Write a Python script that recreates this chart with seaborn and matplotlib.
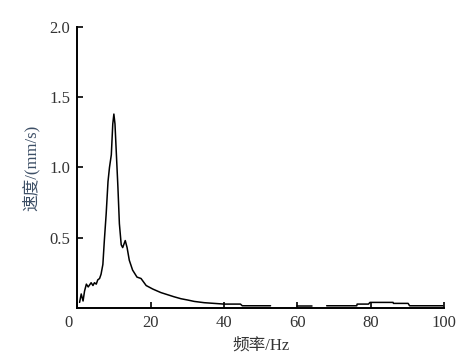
import numpy as np
import pandas as pd
import matplotlib
matplotlib.use("Agg")
import matplotlib.pyplot as plt
import matplotlib.transforms as mtransforms
import seaborn as sns

# spectrum (Hz, mm/s); separate segments where the trace has gaps
freq = [0.65, 1.1, 1.6, 2.0, 2.5, 3.0, 3.8, 4.3, 4.7, 5.2, 5.6, 6.1, 6.5, 7.0, 7.4, 7.9, 8.4, 8.8,
        9.3, 9.7, 10.0, 10.3, 10.6, 11.1, 11.5, 12.0, 12.4, 13.1, 13.6, 14.2, 15.1,
        16.3, 17.4, 18.8, 20.6, 22.8, 26.4, 28.3, 30.1, 31.9, 34.6, 37.3, 40.0, 44.5,
        45.0, 52.7,
        59.9, 64.0,
        68.0, 76.2, 76.3, 79.4, 79.8, 86.1, 86.2, 90.2, 90.6, 99.7]
speed = [0.04, 0.10, 0.05, 0.12, 0.17, 0.15, 0.18, 0.16, 0.18, 0.17, 0.20, 0.21, 0.24, 0.31, 0.48, 0.67, 0.90, 1.00,
         1.09, 1.31, 1.38, 1.31, 1.14, 0.86, 0.60, 0.45, 0.43, 0.48, 0.43, 0.34, 0.27,
         0.22, 0.21, 0.16, 0.135, 0.11, 0.08, 0.066, 0.057, 0.047, 0.038, 0.033, 0.028, 0.028,
         0.016, 0.016,
         0.016, 0.016,
         0.016, 0.016, 0.028, 0.028, 0.04, 0.04, 0.033, 0.033, 0.016, 0.016]
segment = [0] * 46 + [1] * 2 + [2] * 10

xticks = [0, 20, 40, 60, 80, 100]
yticks = [0.5, 1.0, 1.5, 2.0]
xticklabels = ["0", "20", "40", "60", "80", "100"]
yticklabels = ["0.5", "1.0", "1.5", "2.0"]

df = pd.DataFrame({"freq": freq, "speed": speed, "seg": segment})

sns.set_style("ticks")
plt.rcParams["font.family"] = ["Liberation Serif", "Noto Sans CJK SC"]
plt.rcParams["xtick.direction"] = "in"
plt.rcParams["ytick.direction"] = "in"

fig = plt.figure(figsize=(4.65, 3.59), dpi=100)
ax = fig.add_axes([0.166, 0.142, 0.789, 0.783])

sns.lineplot(data=df, x="freq", y="speed", units="seg", estimator=None,
             color="black", linewidth=1.1, ax=ax, legend=False)

ax.set_xlim(0, 100)
ax.set_ylim(0, 2.0)
ax.set_xticks(xticks)
ax.set_xticklabels(xticklabels)
ax.set_yticks(yticks)
ax.set_yticklabels(yticklabels)
ax.tick_params(length=4, width=1.2, labelsize=12, labelcolor="#333333", color="black", pad=5)
sns.despine(ax=ax)
for s in ["left", "bottom"]:
    ax.spines[s].set_linewidth(1.4)
    ax.spines[s].set_color("black")

# the corner "0" sits a little to the left in the original
first = ax.get_xticklabels()[0]
first.set_transform(first.get_transform() + mtransforms.ScaledTranslation(-0.09, 0, fig.dpi_scale_trans))

ax.set_xlabel("频率/Hz", fontsize=12, color="#333333", labelpad=5)
ax.set_ylabel("速度/(mm/s)", fontsize=12, color="#3d4f66", labelpad=7)

fig.savefig("out.png", dpi=100)
